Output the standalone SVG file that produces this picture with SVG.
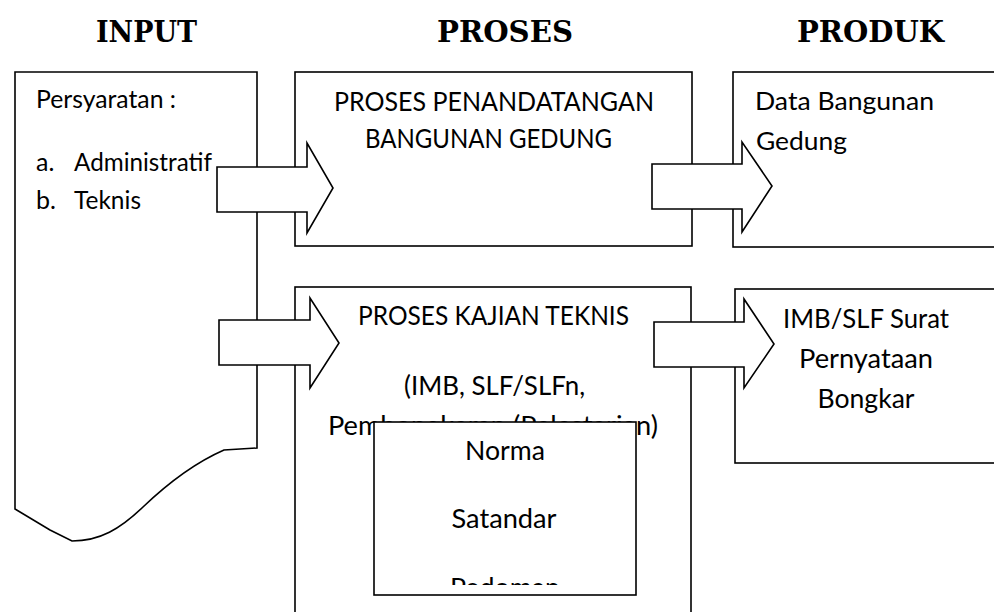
<svg xmlns="http://www.w3.org/2000/svg" width="994" height="612" viewBox="0 0 994 612">
<defs>
<style>
.bx{fill:#fff;stroke:#000;stroke-width:1.6}
.ar{fill:#fff;stroke:#000;stroke-width:1.6;stroke-linejoin:miter}
.hd{font-family:"DejaVu Serif","Liberation Serif",serif;font-weight:bold;font-size:30px;fill:#000}
.t1{font-family:Lato,"Open Sans","Liberation Sans",sans-serif;font-size:25px;fill:#000}
.t2{font-family:Lato,"Open Sans","Liberation Sans",sans-serif;font-size:27.5px;fill:#000}
</style>
<clipPath id="normaClip"><rect x="375" y="423" width="260" height="162"/></clipPath>
</defs>
<rect width="994" height="612" fill="#fff"/>
<g id="headers">
<text class="hd" x="96" y="42" textLength="101" lengthAdjust="spacingAndGlyphs">INPUT</text>
<text class="hd" x="437" y="42" textLength="136" lengthAdjust="spacingAndGlyphs">PROSES</text>
<text class="hd" x="797" y="42" textLength="147" lengthAdjust="spacingAndGlyphs">PRODUK</text>
</g>
<g id="input">
<path class="bx" d="M15,72 H257 V448 L224,450 C192,464 165,486 143,507 C120,529 100,541 72,541 L50,530 L15,509 Z"/>
<text class="t1" x="36" y="108" textLength="140" lengthAdjust="spacingAndGlyphs">Persyaratan :</text>
<text class="t1" x="36" y="171">a.</text>
<text class="t1" x="74" y="171" textLength="138" lengthAdjust="spacingAndGlyphs">Administratif</text>
<text class="t1" x="36" y="209">b.</text>
<text class="t1" x="74" y="209" textLength="67" lengthAdjust="spacingAndGlyphs">Teknis</text>
</g>
<g id="proses1">
<rect class="bx" x="295" y="72" width="397" height="174"/>
<text class="t2" x="334" y="111" textLength="320" lengthAdjust="spacingAndGlyphs">PROSES PENANDATANGAN</text>
<text class="t2" x="365" y="148" textLength="247" lengthAdjust="spacingAndGlyphs">BANGUNAN GEDUNG</text>
</g>
<g id="produk1">
<rect class="bx" x="733" y="72" width="280" height="175"/>
<text class="t1" x="755" y="110" textLength="179" lengthAdjust="spacingAndGlyphs">Data Bangunan</text>
<text class="t1" x="756" y="150" textLength="91" lengthAdjust="spacingAndGlyphs">Gedung</text>
</g>
<g id="proses2">
<rect class="bx" x="295" y="287" width="396" height="340"/>
<text class="t2" x="358" y="325" textLength="271" lengthAdjust="spacingAndGlyphs">PROSES KAJIAN TEKNIS</text>
<text class="t2" x="404" y="395" textLength="181" lengthAdjust="spacingAndGlyphs">(IMB, SLF/SLFn,</text>
<text class="t2" x="328" y="435" textLength="330" lengthAdjust="spacingAndGlyphs">Pembongkaran (Pelestarian)</text>
</g>
<g id="produk2">
<rect class="bx" x="735" y="289" width="280" height="174"/>
<text class="t2" x="783" y="328" textLength="166" lengthAdjust="spacingAndGlyphs">IMB/SLF Surat</text>
<text class="t2" x="866" y="368" text-anchor="middle" textLength="134" lengthAdjust="spacingAndGlyphs">Pernyataan</text>
<text class="t2" x="866" y="408" text-anchor="middle" textLength="97" lengthAdjust="spacingAndGlyphs">Bongkar</text>
</g>
<g id="norma">
<rect class="bx" x="374" y="422" width="262" height="173"/>
<g clip-path="url(#normaClip)">
<text class="t2" x="505" y="460" text-anchor="middle" textLength="80" lengthAdjust="spacingAndGlyphs">Norma</text>
<text class="t2" x="504" y="528" text-anchor="middle" textLength="105" lengthAdjust="spacingAndGlyphs">Satandar</text>
<text class="t2" x="505" y="597" text-anchor="middle" textLength="110" lengthAdjust="spacingAndGlyphs">Pedoman</text>
</g>
</g>
<g id="connectors">
<path class="ar" d="M217,167 H307 V143 L333,188 L307,233 V212 H217 Z"/>
<path class="ar" d="M652,164 H742 V142 L772,186 L742,232 V209 H652 Z"/>
<path class="ar" d="M219,320 H310 V298 L339,343 L310,388 V365 H219 Z"/>
<path class="ar" d="M654,322 H744 V299 L774,344 L744,388 V367 H654 Z"/>
</g>
</svg>
